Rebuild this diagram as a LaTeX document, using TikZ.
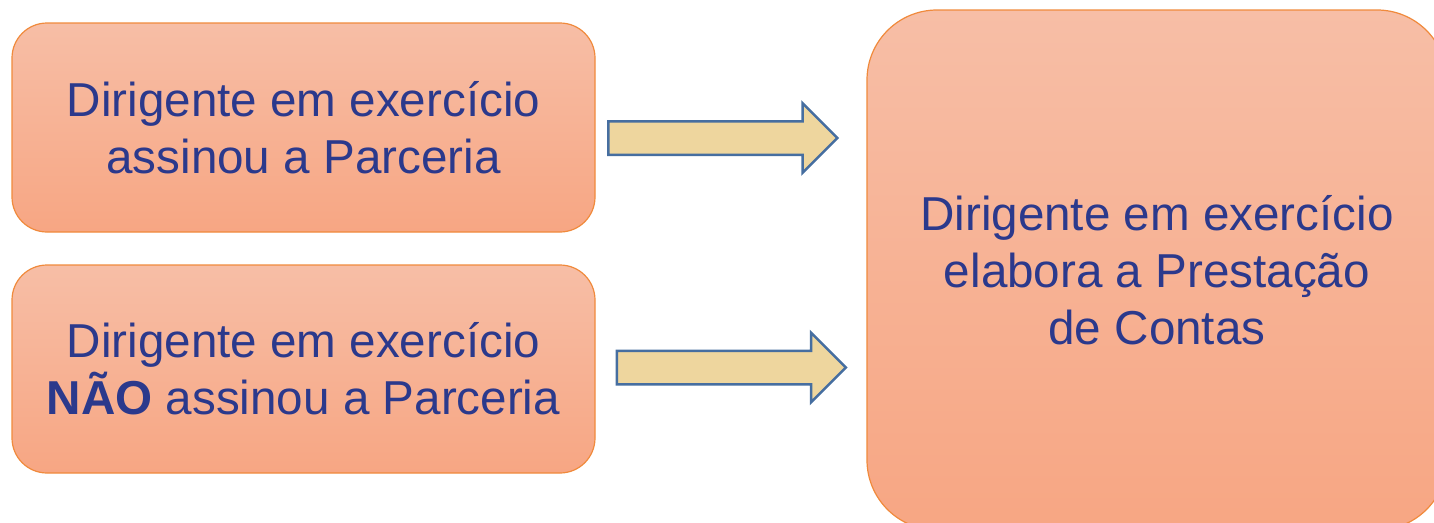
\documentclass[tikz,border=0pt]{standalone}
\usepackage{fontspec}
\setmainfont{Liberation Sans}
\usepackage{tikz}
\usetikzlibrary{shapes.arrows}
\definecolor{boxtop}{RGB}{247,190,166}
\definecolor{boxbot}{RGB}{247,166,131}
\definecolor{boxline}{RGB}{240,138,60}
\definecolor{txtblue}{RGB}{43,57,140}
\definecolor{arrowfill}{RGB}{238,214,158}
\definecolor{arrowline}{RGB}{70,110,160}

\begin{document}
\begin{tikzpicture}[x=1pt,y=-1pt]
            \tikzstyle{stage}=[rectangle,draw=boxline,line width=1.2pt,top color=boxtop,bottom color=boxbot,
                               text=txtblue,align=center,inner sep=0pt,
                               font=\fontsize{47.6}{57}\selectfont]
            \tikzstyle{push}=[single arrow,draw=arrowline,line width=2.5pt,fill=arrowfill,
                              minimum height=229pt,minimum width=68pt,single arrow head extend=18pt,
                              single arrow head indent=0pt,inner xsep=0pt,inner ysep=15.5pt]
                \useasboundingbox (0,0) rectangle (1434,522);
                \clip (0,0) rectangle (1434,522);

                \node[stage,rounded corners=35pt,minimum width=583pt,minimum height=209pt] (S-signed) at (303.5,127.5)
                    {Dirigente em exercício\\assinou a Parceria};
                \node[stage,rounded corners=35pt,minimum width=583pt,minimum height=208pt] (S-notsigned) at (303.5,369)
                    {Dirigente em exercício\\\textbf{NÃO} assinou a Parceria};
                \node[stage,rounded corners=70pt,minimum width=580pt,minimum height=520pt] (S-account) at (1157,270)
                    {Dirigente em exercício\\elabora a Prestação\\de Contas};

                \foreach \name/\x/\y in {signed/714.5/138, notsigned/723/367.5}
                    \node[push] (A-\name) at (\x,\y) {};
        \end{tikzpicture}
\end{document}
